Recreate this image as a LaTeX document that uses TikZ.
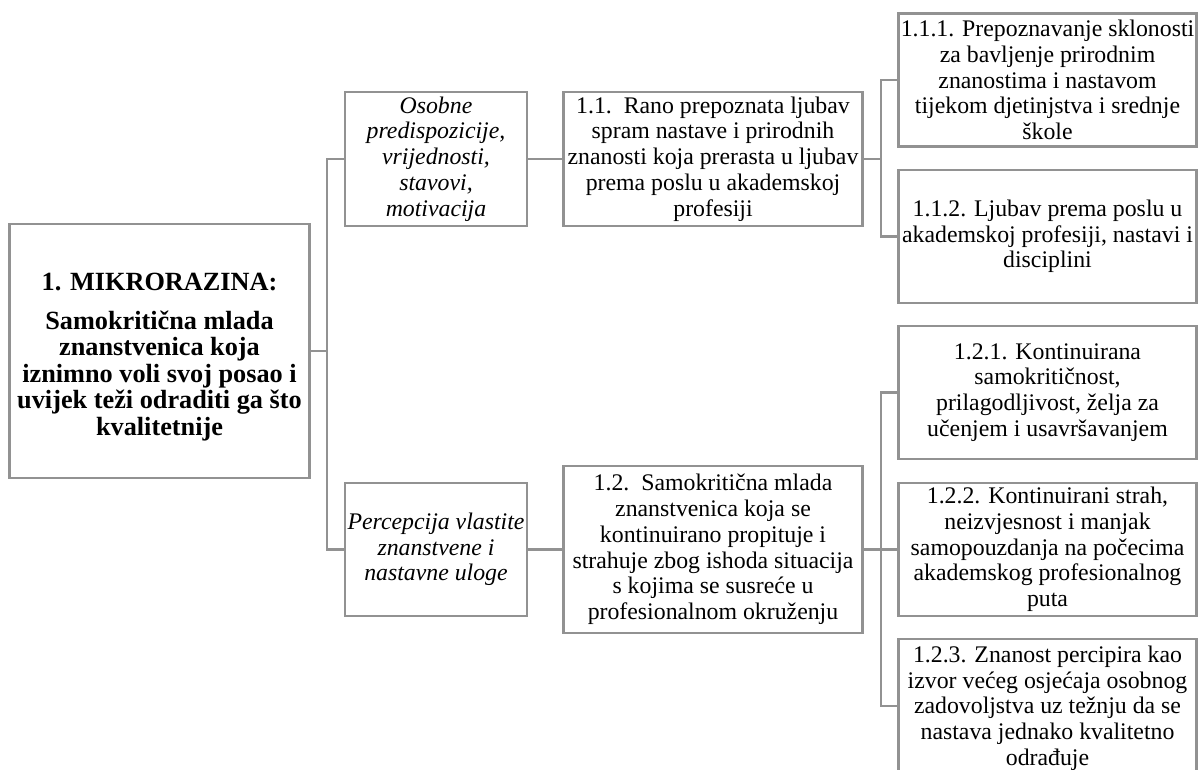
\documentclass[tikz,border=0pt]{standalone}
\usepackage{fontspec}
\setmainfont{Liberation Serif}
\definecolor{linegray}{RGB}{146,146,146}
\tikzset{
  box/.style={draw=linegray, line width=1.9pt, fill=white, align=center, inner sep=0pt,
    font=\fontsize{17.85}{19.3}\selectfont},
  itbox/.style={box, font=\itshape\fontsize{17.85}{19.3}\selectfont},
  mainbox/.style={box},
  maintext/.style={align=center, inner sep=0pt, font=\bfseries\fontsize{19.7}{19.9}\selectfont},
  conn/.style={draw=linegray, line width=1.9pt, line join=miter},
}
\begin{document}
\begin{tikzpicture}[x=0.75pt, y=-0.75pt]
\useasboundingbox (0,0) rectangle (1198,769);
\clip (0,0) rectangle (1198,769);

\node[mainbox, minimum width=300*0.75pt, minimum height=254*0.75pt] (main) at (159.5,351) {};
\node[maintext] (maintitle) at (159.5,357)
  {1. MIKRORAZINA:\\[9pt] Samokritična mlada\\ znanstvenica koja\\ iznimno voli svoj posao i\\ uvijek teži odraditi ga što\\ kvalitetnije};

\node[itbox, minimum width=182*0.75pt, minimum height=134*0.75pt] (osobne) at (436,159)
  {Osobne\\ predispozicije,\\ vrijednosti,\\ stavovi,\\ motivacija};
\node[box, minimum width=299*0.75pt, minimum height=134*0.75pt] (n11) at (713,159)
  {1.1.\ \ Rano prepoznata ljubav\\ spram nastave i prirodnih\\ znanosti koja prerasta u ljubav\\ prema poslu u akademskoj\\ profesiji};

\node[box, minimum width=298*0.75pt, minimum height=133*0.75pt] (n111) at (1047.5,80)
  {1.1.1. Prepoznavanje sklonosti\\ za bavljenje prirodnim\\ znanostima i nastavom\\ tijekom djetinjstva i srednje\\ škole};
\node[box, minimum width=298*0.75pt, minimum height=133*0.75pt] (n112) at (1047.5,236.5)
  {1.1.2. Ljubav prema poslu u\\ akademskoj profesiji, nastavi i\\ disciplini};

\node[itbox, minimum width=182*0.75pt, minimum height=133*0.75pt] (percep) at (436,549.5)
  {Percepcija vlastite\\ znanstvene i\\ nastavne uloge};
\node[box, minimum width=299*0.75pt, minimum height=167*0.75pt] (n12) at (713,549.5)
  {1.2.\ \ Samokritična mlada\\ znanstvenica koja se\\ kontinuirano propituje i\\ strahuje zbog ishoda situacija\\ s kojima se susreće u\\ profesionalnom okruženju};

\node[box, minimum width=298*0.75pt, minimum height=133*0.75pt] (n121) at (1047.5,392.5)
  {1.2.1. Kontinuirana\\ samokritičnost,\\ prilagodljivost, želja za\\ učenjem i usavršavanjem};
\node[box, minimum width=298*0.75pt, minimum height=133*0.75pt] (n122) at (1047.5,549.5)
  {1.2.2. Kontinuirani strah,\\ neizvjesnost i manjak\\ samopouzdanja na počecima\\ akademskog profesionalnog\\ puta};
\node[box, minimum width=298*0.75pt, minimum height=138*0.75pt] (n123) at (1047.5,708)
  {1.2.3. Znanost percipira kao\\ izvor većeg osjećaja osobnog\\ zadovoljstva uz težnju da se\\ nastava jednako kvalitetno\\ odrađuje};

\coordinate (j1) at (327,0);
\coordinate (j2) at (881,0);
\coordinate (c123) at (881,706);

\draw[conn] (main.east) -- (main.east -| j1);
\draw[conn] (osobne.west) -- (osobne.west -| j1) -- (percep.west -| j1) -- (percep.west);
\draw[conn] (osobne.east) -- (n11.west);
\draw[conn] (percep.east) -- (n12.west);

\draw[conn] (n11.east) -- (n11.east -| j2);
\draw[conn] (n111.west) -- (n111.west -| j2) -- (n112.west -| j2) -- (n112.west);

\draw[conn] (n12.east) -- (n12.east -| j2);
\draw[conn] (n121.west) -- (n121.west -| j2) -- (c123) -- (c123 -| n123.west);
\draw[conn] (n122.west) -- (n122.west -| j2);
\end{tikzpicture}
\end{document}
